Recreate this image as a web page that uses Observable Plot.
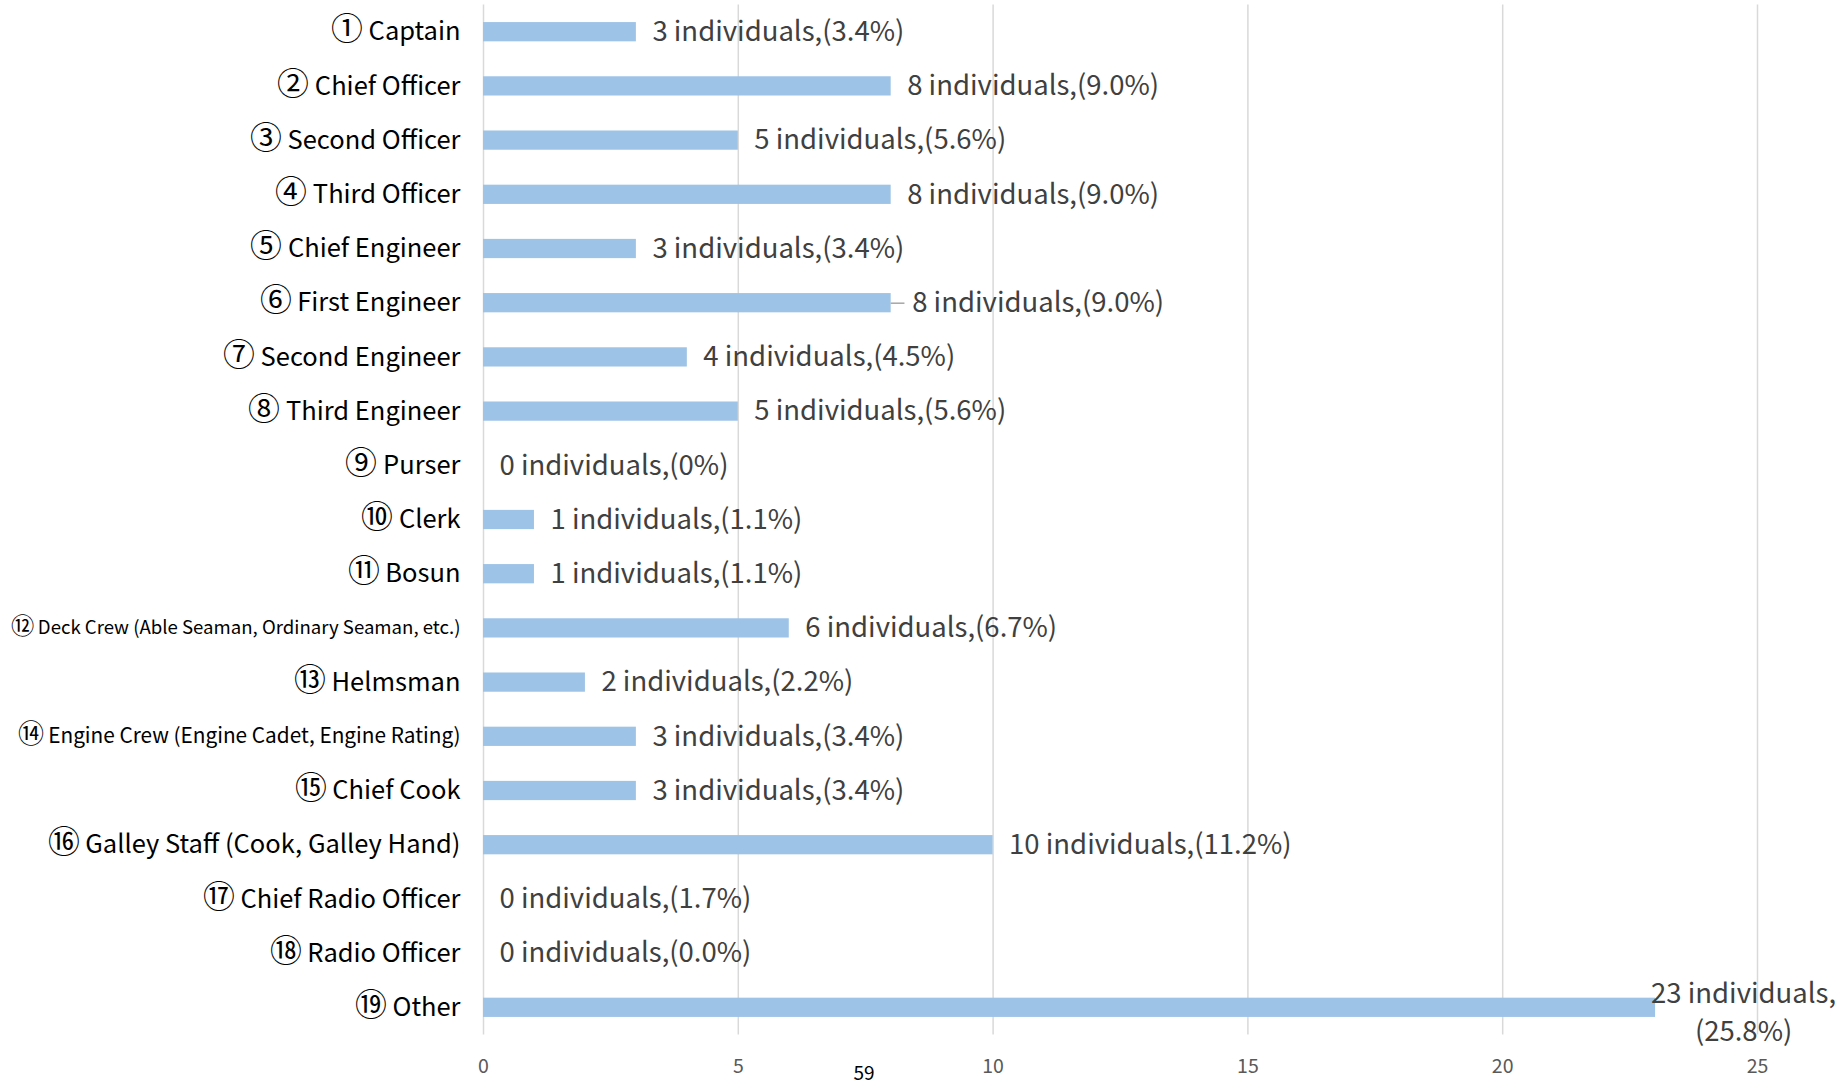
<!DOCTYPE html>
<html>
<head>
<meta charset="utf-8">
<script src="https://cdn.jsdelivr.net/npm/d3@7"></script>
<script src="https://cdn.jsdelivr.net/npm/@observablehq/plot@0.6"></script>
<style>
  @font-face {
    font-family: "CircNum";
    src: local("Noto Sans CJK JP Regular"), local("NotoSansCJKjp-Regular"), local("Noto Sans CJK JP");
    unicode-range: U+2460-2473;
    size-adjust: 125%;
  }
  html, body { margin: 0; padding: 0; background: #fff; }
  #wrap { position: relative; width: 1841px; height: 1081px; }
  #page { position: absolute; left: 864px; top: 1071px; transform: translate(-50%, -50%);
          font-family: "Noto Sans CJK JP", "Noto Sans", sans-serif; font-size: 19px; color: #000; }
</style>
</head>
<body>
<div id="wrap"><div id="page">59</div></div>
<script>
const categories = [
  "① Captain", "② Chief Officer", "③ Second Officer", "④ Third Officer",
  "⑤ Chief Engineer", "⑥ First Engineer", "⑦ Second Engineer", "⑧ Third Engineer",
  "⑨ Purser", "⑩ Clerk", "⑪ Bosun", "⑫ Deck Crew (Able Seaman, Ordinary Seaman, etc.)",
  "⑬ Helmsman", "⑭ Engine Crew (Engine Cadet, Engine Rating)", "⑮ Chief Cook",
  "⑯ Galley Staff (Cook, Galley Hand)", "⑰ Chief Radio Officer", "⑱ Radio Officer", "⑲ Other"
];
const counts = [3, 8, 5, 8, 3, 8, 4, 5, 0, 1, 1, 6, 2, 3, 3, 10, 0, 0, 23];
const percents = ["(3.4%)", "(9.0%)", "(5.6%)", "(9.0%)", "(3.4%)", "(9.0%)", "(4.5%)", "(5.6%)",
  "(0%)", "(1.1%)", "(1.1%)", "(6.7%)", "(2.2%)", "(3.4%)", "(3.4%)", "(11.2%)", "(1.7%)", "(0.0%)", "(25.8%)"];
const xTicks = [0, 5, 10, 15, 20, 25];
const leaderRows = ["⑥ First Engineer"];
const wrappedRows = ["⑲ Other"];

// style: smaller font for the long category labels
const labelFont = {"⑫ Deck Crew (Able Seaman, Ordinary Seaman, etc.)": 18.6,
                   "⑭ Engine Crew (Engine Cadet, Engine Rating)": 20.8};

const data = categories.map((c, i) => ({cat: c, value: counts[i], pct: percents[i]}));
const plain = data.filter(d => !leaderRows.includes(d.cat) && !wrappedRows.includes(d.cat));
const leader = data.filter(d => leaderRows.includes(d.cat));
const wrapped = data.filter(d => wrappedRows.includes(d.cat));

const font = '"CircNum", "Noto Sans CJK JP", "Noto Sans", sans-serif';
const valFont = 27.5;

const chart = Plot.plot({
  width: 1841, height: 1081,
  marginLeft: 483, marginRight: 84, marginTop: 4.6, marginBottom: 46.6,
  style: {fontFamily: font, background: "#fff"},
  x: {domain: [0, 25], label: null},
  y: {domain: categories, paddingInner: 0.645, paddingOuter: 0.3225, round: false, axis: null},
  marks: [
    Plot.gridX(xTicks, {stroke: "#d9d9d9", strokeOpacity: 1, strokeWidth: 1.5}),
    Plot.axisX(xTicks, {tickSize: 0, tickPadding: 24, fontSize: 19.5, color: "#595959", label: null}),
    Plot.barX(data, {x: "value", y: "cat", fill: "#9dc3e6"}),
    Plot.text(data, {x: () => 0, y: "cat", text: "cat", textAnchor: "end", dx: -23,
      fontSize: d => labelFont[d.cat] || 25.5, fill: "#000"}),
    Plot.text(plain, {x: "value", y: "cat", text: d => `${d.value} individuals,${d.pct}`,
      textAnchor: "start", dx: 16, fontSize: valFont, fill: "#404040"}),
    Plot.ruleY(leader, {y: "cat", x1: "value", x2: d => d.value + 0.27, stroke: "#a6a6a6", strokeWidth: 1.5}),
    Plot.text(leader, {x: "value", y: "cat", text: d => `${d.value} individuals,${d.pct}`,
      textAnchor: "start", dx: 21, fontSize: valFont, fill: "#404040"}),
    Plot.text(wrapped, {x: "value", y: "cat", text: d => `${d.value} individuals,\n${d.pct}`,
      textAnchor: "middle", dx: 88, dy: 2, lineHeight: 1.4, fontSize: valFont, fill: "#404040"})
  ]
});
document.getElementById("wrap").prepend(chart);
</script>
</body>
</html>
